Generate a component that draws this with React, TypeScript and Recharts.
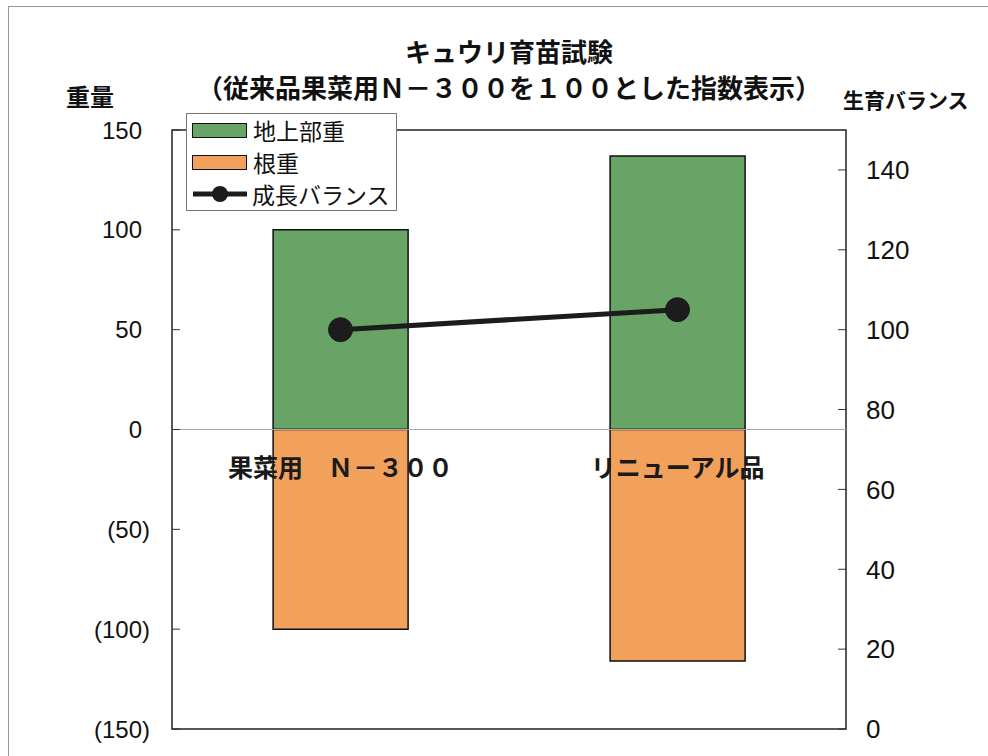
import React from "react";
import {
  ComposedChart,
  Bar,
  Line,
  XAxis,
  YAxis,
  ReferenceLine,
  ReferenceArea,
  LabelList,
} from "recharts";

const categories = ["果菜用　Ｎ－３００", "リニューアル品"];
const shootWeight = [100, 137];
const rootWeight = [-100, -116];
const growthBalance = [100, 105];

const leftTicks = [-150, -100, -50, 0, 50, 100, 150];
const rightTicks = [0, 20, 40, 60, 80, 100, 120, 140];

const seriesNames = { shoot: "地上部重", root: "根重", balance: "成長バランス" };

const GREEN = "#67a466";
const ORANGE = "#f2a15c";
const LINE = "#1c1c1c";
const JP = '"Noto Sans CJK JP", "Noto Sans", sans-serif';
const NUM = '"Liberation Sans", Arial, sans-serif';

const data = categories.map((name, i) => ({
  name,
  shoot: shootWeight[i],
  root: rootWeight[i],
  balance: growthBalance[i],
}));

function LeftTick(props: any) {
  const { x, y, payload } = props;
  const v = payload.value as number;
  return (
    <g>
      <line x1={x + 22} x2={x + 30} y1={y} y2={y} stroke="#333" strokeWidth={1} />
      <text x={x} y={y} dy="0.36em" textAnchor="end" fontSize={24} fill="#111" fontFamily={NUM}>
        {v < 0 ? `(${-v})` : String(v)}
        {v >= 0 && <tspan fillOpacity={0}>)</tspan>}
      </text>
    </g>
  );
}

function RightTick(props: any) {
  const { x, y, payload } = props;
  return (
    <g>
      <line x1={x - 28} x2={x - 20} y1={y} y2={y} stroke="#333" strokeWidth={1} />
      <text x={x} y={y} dy="0.36em" textAnchor="start" fontSize={26} fill="#111" fontFamily={NUM}>
        {payload.value}
      </text>
    </g>
  );
}

// category names sit just under the zero line, inside the plot
function CategoryLabel(props: any) {
  const { x, y, width, height, value } = props;
  const top = Math.min(y, y + height);
  return (
    <text
      x={x + width / 2}
      y={top + 38}
      dy="0.36em"
      textAnchor="middle"
      fontSize={25}
      fontWeight="bold"
      fill="#1a1a1a"
      fontFamily={JP}
    >
      {value}
    </text>
  );
}

function LegendBox() {
  const row = { display: "flex", alignItems: "center", height: 32 } as const;
  const swatch = (c: string) => ({
    width: 53,
    height: 13,
    background: c,
    border: "1.5px solid #111",
    marginRight: 6,
  });
  return (
    <div
      style={{
        position: "absolute",
        left: 186,
        top: 113,
        width: 211,
        height: 98,
        background: "#fff",
        border: "1px solid #777",
        padding: "0 0 0 5px",
        boxSizing: "border-box",
        fontFamily: JP,
        fontSize: 23,
        color: "#111",
      }}
    >
      <div style={row}>
        <div style={swatch(GREEN)} />
        {seriesNames.shoot}
      </div>
      <div style={row}>
        <div style={swatch(ORANGE)} />
        {seriesNames.root}
      </div>
      <div style={row}>
        <svg width={56} height={20} style={{ marginRight: 4 }}>
          <line x1={1} x2={55} y1={10} y2={10} stroke={LINE} strokeWidth={5} />
          <circle cx={28} cy={10} r={8} fill={LINE} />
        </svg>
        {seriesNames.balance}
      </div>
    </div>
  );
}

export default function App() {
  return (
    <div
      style={{
        position: "absolute",
        left: 0,
        top: 0,
        width: 988,
        height: 756,
        background: "#fff",
        overflow: "hidden",
      }}
    >
      <div
        style={{
          position: "absolute",
          left: 8,
          top: 6,
          width: 990,
          height: 760,
          borderTop: "1.5px solid #999",
          borderLeft: "1.5px solid #999",
        }}
      />
      <ComposedChart
        width={988}
        height={756}
        data={data}
        stackOffset="sign"
        barCategoryGap="30%"
        margin={{ top: 130, right: 0, bottom: 27, left: 0 }}
      >
        <XAxis dataKey="name" hide />
        <YAxis
          yAxisId="left"
          orientation="left"
          width={172}
          domain={[-150, 150]}
          ticks={leftTicks}
          interval={0}
          tickSize={0}
          tickMargin={22}
          tickLine={false}
          axisLine={false}
          tick={<LeftTick />}
        />
        <YAxis
          yAxisId="right"
          orientation="right"
          width={142}
          domain={[0, 150]}
          ticks={rightTicks}
          interval={0}
          tickSize={0}
          tickMargin={20}
          tickLine={false}
          axisLine={false}
          tick={<RightTick />}
        />
        <ReferenceLine yAxisId="left" y={0} stroke="#aaa" strokeWidth={1} />
        <Bar
          yAxisId="left"
          dataKey="shoot"
          name={seriesNames.shoot}
          stackId="w"
          fill={GREEN}
          stroke="#111"
          strokeWidth={1.5}
          isAnimationActive={false}
        />
        <Bar
          yAxisId="left"
          dataKey="root"
          name={seriesNames.root}
          stackId="w"
          fill={ORANGE}
          stroke="#111"
          strokeWidth={1.5}
          isAnimationActive={false}
        >
          <LabelList dataKey="name" content={<CategoryLabel />} />
        </Bar>
        <Line
          yAxisId="right"
          dataKey="balance"
          name={seriesNames.balance}
          stroke={LINE}
          strokeWidth={5}
          dot={{ r: 12, fill: LINE, stroke: LINE, strokeWidth: 1 }}
          activeDot={false}
          isAnimationActive={false}
        />
        <ReferenceArea
          yAxisId="left"
          y1={-150}
          y2={150}
          fill="none"
          stroke="#222"
          strokeWidth={1.5}
          ifOverflow="visible"
        />
      </ComposedChart>
      <div
        style={{
          position: "absolute",
          left: 172,
          width: 674,
          top: 33,
          textAlign: "center",
          fontFamily: JP,
          fontWeight: "bold",
          fontSize: 26,
          lineHeight: "36px",
          color: "#111",
          whiteSpace: "nowrap",
        }}
      >
        <div>キュウリ育苗試験</div>
        <div>（従来品果菜用Ｎ－３００を１００とした指数表示）</div>
      </div>
      <div
        style={{
          position: "absolute",
          left: 66,
          top: 80,
          fontFamily: JP,
          fontWeight: "bold",
          fontSize: 24,
          lineHeight: "32px",
          color: "#111",
        }}
      >
        重量
      </div>
      <div
        style={{
          position: "absolute",
          left: 843,
          top: 84,
          fontFamily: JP,
          fontWeight: "bold",
          fontSize: 21,
          lineHeight: "30px",
          color: "#111",
          whiteSpace: "nowrap",
        }}
      >
        生育バランス
      </div>
      <LegendBox />
    </div>
  );
}
